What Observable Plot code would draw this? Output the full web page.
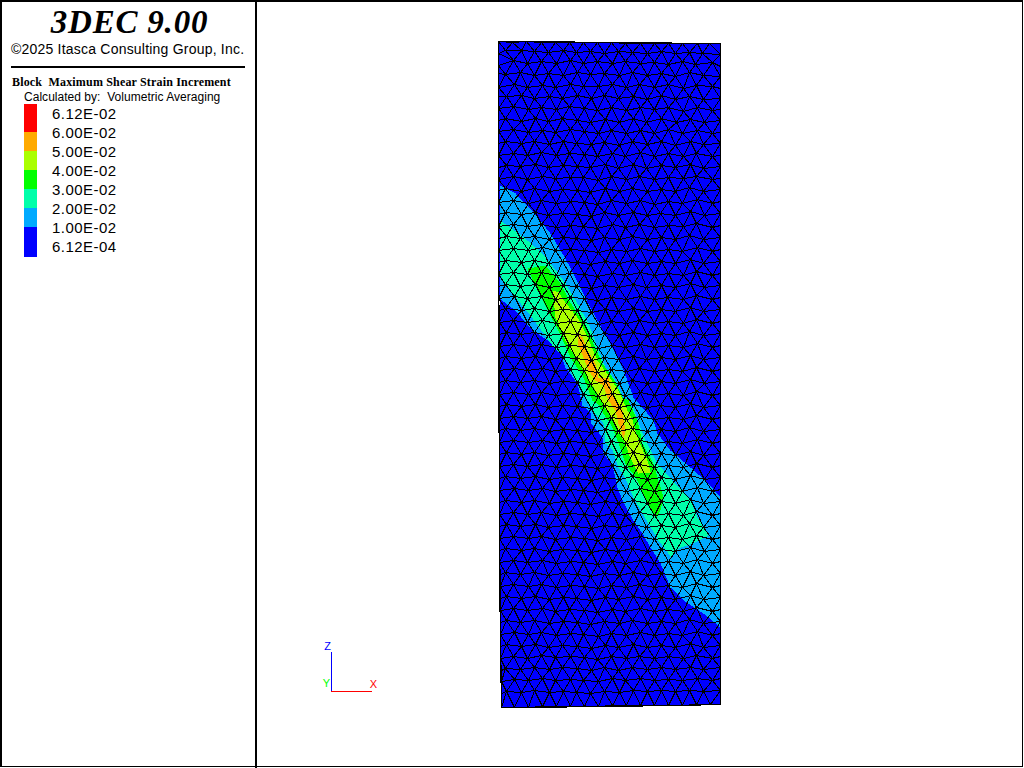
<!DOCTYPE html>
<html>
<head>
<meta charset="utf-8">
<script src="https://cdn.jsdelivr.net/npm/d3@7"></script>
<script src="https://cdn.jsdelivr.net/npm/@observablehq/plot@0.6"></script>
<style>
html,body{margin:0;padding:0;background:#fff}
#page{position:relative;width:1024px;height:768px;overflow:hidden;background:#fff}
#frame{position:absolute;left:0;top:0;width:1023px;height:767px;box-sizing:border-box;border:2px solid #000;border-right-width:1px;border-bottom-width:1px;pointer-events:none}
#divider{position:absolute;left:255px;top:0;width:2px;height:768px;background:#000}
#rule{position:absolute;left:11px;top:66px;width:234px;height:2px;background:#000}
.t{position:absolute;white-space:pre;color:#000}
#title{left:1px;width:257px;text-align:center;top:2px;font:italic bold 33px/40px "Liberation Serif";letter-spacing:.8px}
#copy{left:11px;top:40px;font:14px/18px "Liberation Sans";letter-spacing:.21px}
#block{left:12px;top:75px;font:bold 12px/14px "Liberation Serif";letter-spacing:.17px}
#calc{left:24px;top:90px;font:12px/14px "Liberation Sans";letter-spacing:.03px}
.lab{left:52px;font:15px/18px "Liberation Sans";letter-spacing:.45px}
.sw{position:absolute;left:24px;width:13px}
#chart{position:absolute;left:256px;top:0}
#chart svg{display:block;background:transparent}
</style>
</head>
<body>
<div id="page">
  <div id="chart"></div>
  <div class="t" id="title">3DEC 9.00</div>
  <div class="t" id="copy">©2025 Itasca Consulting Group, Inc.</div>
  <div id="rule"></div>
  <div class="t" id="block">Block  Maximum Shear Strain Increment</div>
  <div class="t" id="calc">Calculated by:  Volumetric Averaging</div>
  <div id="frame"></div>
  <div id="divider"></div>
</div>
<script>
const legendLabels = ["6.12E-02","6.00E-02","5.00E-02","4.00E-02","3.00E-02","2.00E-02","1.00E-02","6.12E-04"];
const legendColors = ["#ff0000","#ffaa00","#aaff00","#00ff00","#00ffaa","#00aaff","#0000ff"];
const levels = ["base","l1","l2","l3","l4","l5"];
const levelColors = ["#0000ff","#00aaff","#00ffaa","#00ff00","#aaff00","#ffaa00"];

const blockOutline = [[498,41],[720,43],[720,704],[501,707],[500,576],[499,300]];
const band1 = [[499,185],[515,193],[533,212],[550,233],[562,253],[573,273],[587,302],[597,320],[608,340],[622,367],[633,397],[653,420],[657,433],[670,450],[690,467],[707,482],[720,497],[720,627],[703,613],[683,600],[670,587],[660,563],[650,547],[642,533],[633,520],[623,502],[617,487],[612,465],[603,453],[602,437],[591,423],[590,412],[582,405],[577,383],[565,367],[558,347],[532,330],[515,310],[499,298]];
const band2 = [[499,220],[510,227],[527,240],[542,253],[553,267],[565,283],[577,303],[588,323],[597,347],[605,367],[617,383],[623,400],[633,408],[640,427],[645,440],[657,463],[672,480],[690,500],[697,517],[708,535],[692,543],[680,547],[670,556],[658,540],[642,513],[633,497],[625,478],[618,467],[612,450],[605,442],[603,423],[592,410],[583,393],[573,377],[563,357],[552,345],[530,315],[507,287],[499,273]];
const band3 = [[527,268],[545,265],[560,283],[570,302],[582,320],[593,343],[602,363],[612,377],[622,397],[628,400],[637,420],[642,443],[653,463],[663,497],[660,510],[656,517],[647,503],[637,480],[625,463],[618,443],[612,427],[603,413],[597,403],[592,400],[583,377],[570,357],[558,330],[547,310],[537,290]];
const band4 = [[552,290],[558,292],[565,302],[577,317],[587,337],[597,360],[608,375],[618,390],[627,410],[632,420],[638,440],[647,460],[650,472],[638,473],[630,458],[625,443],[618,432],[613,420],[605,408],[595,390],[587,377],[577,360],[565,340],[555,317],[553,297]];
const band5 = [[577,333],[582,337],[587,350],[595,363],[598,377],[608,378],[612,392],[622,410],[625,432],[623,437],[618,423],[615,410],[608,400],[603,385],[595,380],[588,370],[583,357],[578,345]];

const meshRows = [
[498,41,512,42,526,41,541,42,555,42,569,42,583,42,597,42,611,42,625,43,640,43,654,43,668,43,682,43,697,43,709,43,720,43],
[498,53,505,50,521,50,534,51,548,52,563,50,576,52,590,51,604,53,618,51,632,52,647,53,661,51,675,53,689,52,702,53,720,54],
[498,65,513,60,527,63,541,61,556,63,570,60,583,63,597,61,612,63,625,61,640,63,654,62,668,64,682,61,695,64,712,62,720,66],
[498,73,505,74,520,72,534,75,548,73,563,75,577,72,590,74,604,73,619,75,632,72,647,75,661,73,675,76,689,72,703,75,720,76],
[498,87,514,84,527,87,542,85,555,87,570,84,583,86,598,86,612,84,626,87,639,84,654,87,668,84,683,88,696,85,712,86,720,88],
[498,96,506,96,521,95,534,98,549,96,562,98,577,95,591,98,604,95,618,98,633,96,647,99,661,95,675,99,689,96,703,99,720,98],
[498,108,513,106,528,109,541,107,556,109,569,106,584,108,597,110,611,107,626,110,640,107,654,109,668,107,683,111,697,107,712,110,720,109],
[498,120,505,118,521,121,535,118,548,121,562,118,577,120,590,122,605,119,619,122,633,118,646,122,661,118,676,122,690,119,704,122,720,120],
[498,131,513,129,528,132,542,130,555,132,570,129,584,131,598,133,611,130,626,133,640,130,654,133,668,129,682,133,697,130,712,133,720,132],
[498,143,505,141,521,143,534,141,549,144,563,141,576,143,591,144,604,142,619,145,632,141,647,144,661,141,675,145,690,141,703,144,720,143],
[498,155,513,153,527,155,541,152,556,155,569,153,584,154,597,156,612,153,625,156,640,152,654,156,668,153,683,156,696,153,712,156,720,155],
[498,167,506,165,520,166,535,164,548,167,563,165,577,166,590,167,605,164,618,168,633,164,646,168,661,165,675,167,690,164,703,168,720,166],
[498,179,513,176,527,179,542,176,555,178,570,177,583,177,598,180,611,176,626,179,639,176,654,179,668,177,683,178,696,176,712,179,720,178],
[498,190,505,188,521,191,534,188,549,191,562,189,577,190,590,192,605,188,619,191,632,188,647,191,661,189,675,191,689,187,703,191,720,189],
[498,202,513,200,528,203,541,200,556,203,570,201,584,202,597,204,611,200,626,203,640,200,654,204,668,201,682,203,697,199,712,203,720,201],
[498,214,505,212,521,214,535,212,548,215,562,213,577,214,591,216,604,212,618,215,633,212,647,215,660,213,675,215,690,211,704,215,720,213],
[498,226,513,224,527,226,541,224,556,227,570,225,583,226,597,228,612,224,625,227,639,224,654,227,668,225,683,226,696,223,712,227,720,225],
[498,238,506,236,520,238,534,236,549,239,563,237,576,238,591,240,604,237,619,239,632,236,647,239,661,237,675,239,689,235,703,239,720,237],
[498,250,513,248,528,250,542,247,555,250,570,249,584,250,598,252,611,249,626,251,640,248,654,251,668,249,682,251,697,247,712,251,720,249],
[498,262,505,260,521,262,534,260,548,263,562,261,577,262,590,264,605,261,619,263,632,260,647,263,661,261,675,263,690,259,703,263,720,261],
[498,274,513,272,527,274,541,272,556,275,569,273,584,274,597,276,612,273,625,275,640,272,654,275,668,273,683,275,696,271,712,275,720,273],
[498,286,505,284,520,286,535,284,549,287,563,285,576,286,591,288,604,285,618,287,633,284,646,287,661,285,675,287,690,283,704,287,720,285],
[498,298,514,296,527,298,541,296,555,299,570,297,584,298,597,300,611,297,626,299,640,296,654,299,667,297,683,299,696,295,712,299,720,297],
[499,310,505,308,521,310,534,308,549,311,562,309,577,310,591,312,605,309,618,311,633,308,647,311,661,309,675,311,690,307,703,311,720,309],
[499,322,513,320,527,322,542,320,556,323,570,321,583,322,598,324,611,321,626,323,639,320,654,323,668,321,683,323,696,319,712,323,720,321],
[499,334,506,332,520,334,534,332,548,335,563,333,577,334,590,336,604,333,619,335,633,332,647,335,661,333,675,335,689,331,703,335,720,333],
[499,346,513,344,528,346,541,344,556,347,569,345,584,346,598,348,612,345,625,347,640,344,654,347,668,345,683,347,697,343,712,347,720,345],
[499,358,505,356,521,358,535,356,549,359,563,357,576,358,591,360,604,357,618,359,633,356,646,359,661,357,675,359,690,355,703,359,720,357],
[499,370,514,368,527,370,542,368,555,371,570,369,584,370,597,372,611,369,626,371,639,368,654,371,668,369,682,371,696,367,712,371,720,369],
[499,382,505,380,520,382,534,380,549,383,562,381,577,382,590,384,605,381,619,383,632,380,647,383,661,381,675,383,690,379,704,383,720,381],
[499,394,513,392,528,394,541,392,556,395,570,393,583,394,598,396,612,393,625,395,640,392,654,395,668,393,683,395,696,391,712,395,720,393],
[499,406,506,404,521,406,535,404,548,407,562,405,577,406,591,408,604,405,619,407,633,404,647,407,660,405,675,407,690,403,703,407,720,405],
[499,418,513,416,527,418,541,416,555,419,570,417,584,418,597,420,611,417,626,419,640,416,654,419,668,417,683,419,696,415,712,419,720,417],
[499,430,505,428,520,430,534,428,549,431,563,429,577,430,591,432,605,429,618,431,632,428,647,431,661,429,675,431,689,427,703,431,720,429],
[499,442,513,440,528,442,542,440,556,443,569,441,583,442,598,444,611,441,626,443,640,440,654,443,668,441,682,443,697,439,712,443,720,441],
[499,454,506,452,521,454,534,452,548,455,563,453,576,454,590,456,605,453,618,455,633,452,646,455,661,453,675,455,690,451,703,455,720,453],
[499,466,513,464,527,466,541,464,556,467,570,465,584,466,597,468,612,465,625,467,639,464,654,467,668,465,683,467,696,463,712,467,720,465],
[499,478,505,476,520,478,535,476,549,479,562,477,577,478,591,480,604,477,619,479,632,476,647,479,661,477,675,479,690,475,704,479,720,477],
[499,490,514,488,528,490,542,488,555,491,570,489,583,490,597,492,611,489,626,491,640,488,654,491,668,489,682,491,697,487,712,491,720,489],
[499,502,505,500,521,502,534,500,549,503,563,501,577,502,590,504,605,501,618,503,633,500,647,503,661,501,675,503,690,499,703,503,720,501],
[499,514,513,512,527,514,541,512,556,515,569,513,584,514,598,516,612,513,625,515,639,512,654,515,668,513,683,515,696,511,712,515,720,513],
[499,526,506,524,520,526,535,524,548,527,563,525,576,526,591,528,604,525,619,527,633,524,646,527,661,525,675,527,689,523,703,527,720,525],
[499,538,513,536,528,538,541,536,555,539,570,537,584,538,597,540,611,537,626,539,640,536,654,539,668,537,682,539,696,535,712,539,720,537],
[499,550,505,548,521,550,534,548,549,551,562,549,577,550,591,552,605,549,618,551,632,548,647,551,661,549,675,551,690,547,704,551,720,549],
[499,562,513,560,527,562,542,560,556,563,570,561,583,562,597,564,612,561,625,563,640,560,654,563,668,561,683,563,697,559,712,563,720,561],
[500,574,505,572,520,574,534,572,548,575,562,573,577,574,590,576,604,573,619,575,633,572,647,575,661,573,675,575,690,571,703,575,720,573],
[500,586,513,584,528,586,541,584,556,587,570,585,584,586,598,588,611,585,626,587,639,584,654,587,668,585,682,587,696,583,712,587,720,585],
[500,598,506,596,521,598,535,596,549,599,563,597,576,598,591,600,605,597,618,599,633,596,647,599,661,597,675,599,690,595,703,599,720,597],
[500,610,513,608,527,610,542,608,555,611,569,609,584,610,597,612,612,609,625,611,640,608,654,611,667,609,683,611,696,607,712,611,720,609],
[500,622,506,620,520,622,534,620,549,623,563,621,577,622,590,624,604,621,619,623,632,620,647,623,661,621,675,623,689,619,703,623,720,621],
[500,634,514,632,528,634,541,632,556,635,570,633,583,634,598,636,611,633,626,635,640,632,654,635,668,633,682,635,697,631,712,635,720,633],
[500,646,506,644,521,646,535,644,548,647,562,645,577,646,591,648,605,645,618,647,633,644,647,647,661,645,675,647,690,643,703,647,720,645],
[500,658,513,656,527,658,541,655,555,657,570,656,584,657,597,659,611,656,626,658,639,656,654,658,668,656,683,658,696,655,712,658,720,656],
[501,670,505,668,520,669,534,667,549,669,562,667,577,668,591,670,604,667,618,670,632,667,647,669,661,667,675,669,690,667,703,669,720,667],
[501,681,514,679,528,680,542,678,555,680,570,679,583,680,598,681,612,678,625,680,640,678,654,680,668,679,682,680,697,678,712,680,720,678],
[501,693,506,691,521,692,534,690,549,692,563,691,576,692,590,693,604,691,619,692,633,690,647,691,661,690,675,691,689,690,703,691,720,690],
[501,707,514,707,528,707,542,706,556,706,570,706,584,706,598,706,612,705,626,705,640,705,654,705,668,705,682,705,696,704,710,704,720,704]
];

const axisZ = [[331,691],[331,652]];
const axisX = [[331,691],[371,691]];
const axisLabels = [["Z",327,646,"#0000ff"],["Y",326,683,"#00ff00"],["X",373,684,"#ff0000"]];

const toPts = (arr, level) => arr.map(([x,y]) => ({x, y, level}));
const bandRows = [blockOutline,band1,band2,band3,band4,band5].flatMap((b,i) => toPts(b, levels[i]));
const nodes = meshRows.flatMap(r => d3.range(0, r.length, 2).map(i => ({x:r[i], y:r[i+1]})));

const chart = Plot.plot({
  width:768, height:768, margin:0,
  x:{domain:[256,1024], range:[0,768], axis:null},
  y:{domain:[0,768], range:[0,768], axis:null},
  color:{type:"ordinal", domain:levels, range:levelColors},
  style:{background:"transparent"},
  marks:[
    Plot.line(bandRows,{x:"x",y:"y",z:"level",fill:"level",stroke:"none",curve:"linear-closed",shapeRendering:"crispEdges"}),
    Plot.delaunayMesh(nodes,{x:"x",y:"y",stroke:"#000",strokeOpacity:1,strokeWidth:1,shapeRendering:"crispEdges"}),
    Plot.line(toPts(axisZ),{x:"x",y:"y",stroke:"#0000ff",strokeWidth:1,shapeRendering:"crispEdges"}),
    Plot.line(toPts(axisX),{x:"x",y:"y",stroke:"#ff0000",strokeWidth:1,shapeRendering:"crispEdges"}),
    Plot.text(axisLabels,{x:d=>d[1],y:d=>d[2],text:d=>d[0],fill:d=>d[3],fontSize:11,fontFamily:"Liberation Sans"})
  ]
});
document.getElementById("chart").append(chart);

const page = document.getElementById("page");
legendColors.forEach((c,i) => {
  const s = document.createElement("div");
  s.className = "sw";
  s.style.background = c;
  s.style.top = (i === 0 ? 104 : 132 + 19*(i-1)) + "px";
  s.style.height = (i === 0 ? 28 : i === legendColors.length-1 ? 30 : 19) + "px";
  page.append(s);
});
legendLabels.forEach((l,i) => {
  const t = document.createElement("div");
  t.className = "t lab";
  t.textContent = l;
  t.style.top = (105 + 19*i) + "px";
  page.append(t);
});
</script>
</body>
</html>
